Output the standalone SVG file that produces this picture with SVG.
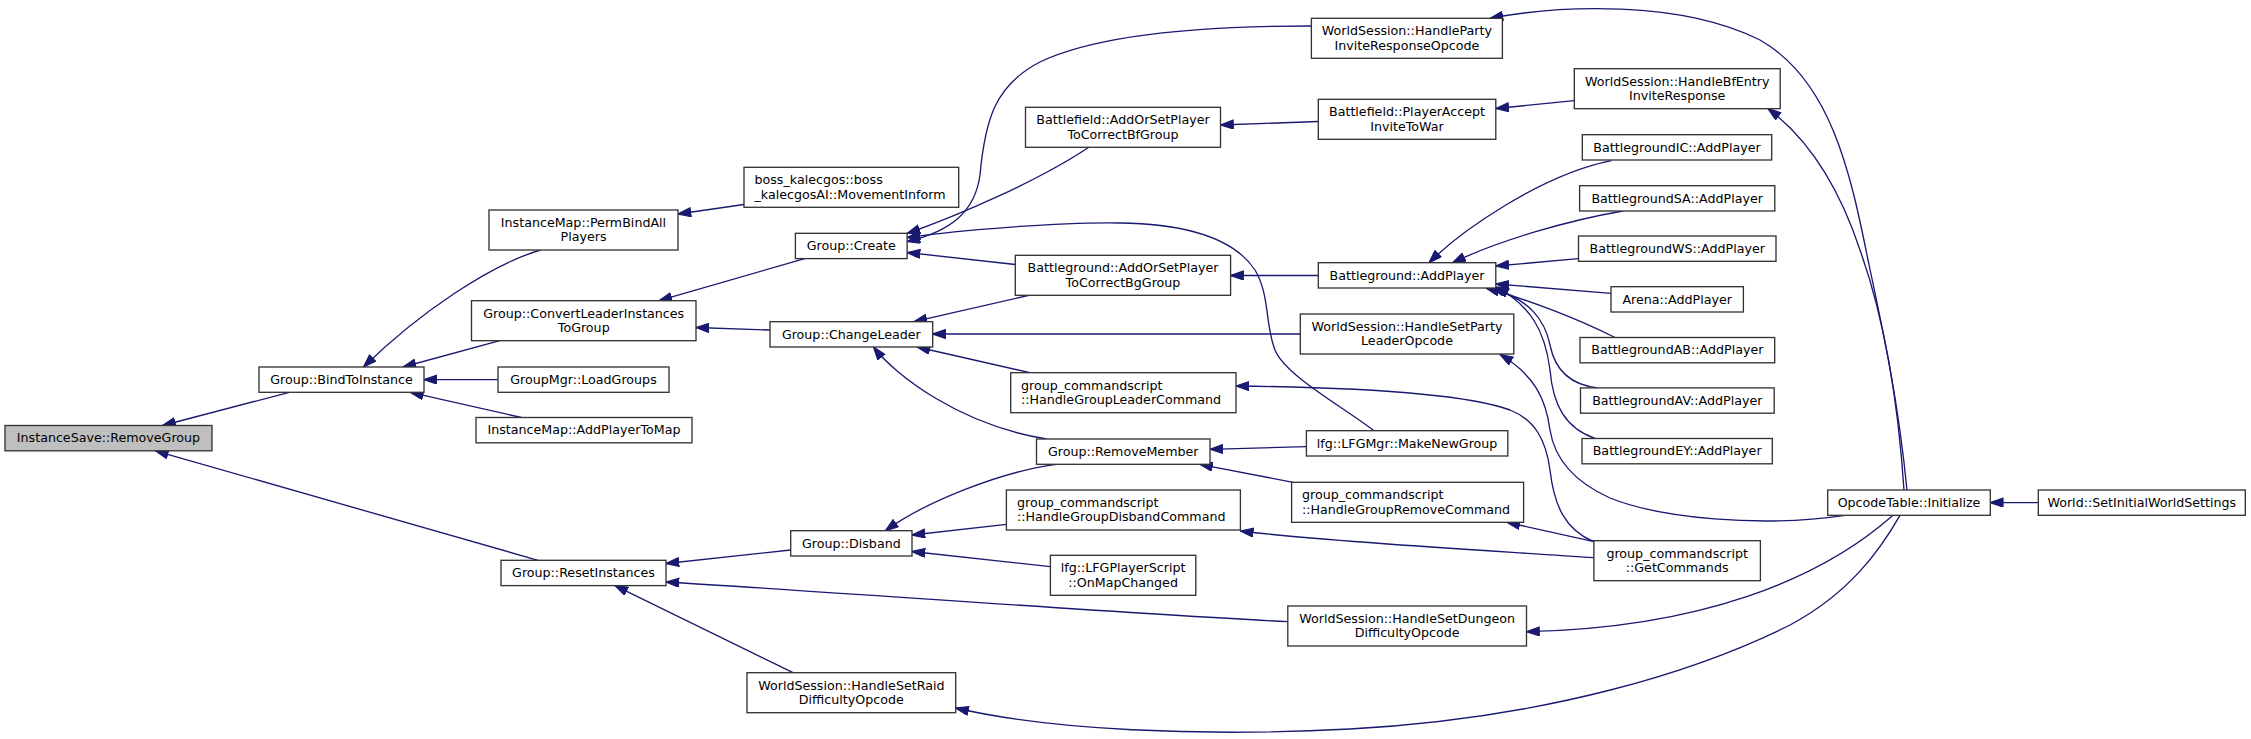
<svg xmlns="http://www.w3.org/2000/svg" width="2251" height="739" viewBox="0 0 2251 739">
<defs>
<style>
.n rect{fill:#ffffff;stroke:#333333;stroke-width:1.33}
.n.hl rect{fill:#bfbfbf}
.n text{font-family:"DejaVu Sans","Liberation Sans",sans-serif;font-size:12.67px;fill:#000000;text-anchor:middle}
.n text.l{text-anchor:start}
#edges path{fill:none;stroke:#191970;stroke-width:1.33;marker-start:url(#ah)}
</style>
<marker id="ah" markerUnits="userSpaceOnUse" viewBox="0 0 14 10" markerWidth="14" markerHeight="10" refX="13.3" refY="4.7" orient="auto-start-reverse">
<path d="M0.6,0.3 L13.3,4.7 L0.6,9.1 Z" fill="#191970" stroke="#191970" stroke-width="1.2"/>
</marker>
</defs>
<rect x="0" y="0" width="2251" height="739" fill="#ffffff"/>
<g id="edges">
<path d="M162.6,425.5 L289.4,392.3"/>
<path d="M155.4,450.8 L538,560.3"/>
<path d="M363.5,367 C420,312 490,265 540.5,250"/>
<path d="M403,367 L499.8,340.7"/>
<path d="M424,379.6 L498,379.6"/>
<path d="M410.4,392.3 L521.4,417.5"/>
<path d="M678,214 L744,204.5"/>
<path d="M659,300.7 L804.6,258.6"/>
<path d="M696,327.5 L770,330"/>
<path d="M666,563.5 L790.7,550"/>
<path d="M666,582 C850,593 1100,612 1287.8,621.7"/>
<path d="M615,585.6 L793,672.7"/>
<path d="M907.1,241.5 C950,232 975,212 980,175 C985,120 995,85 1040,62 C1090,38 1180,26 1311.4,26"/>
<path d="M907.1,233.5 C960,215 1040,180 1088.8,147.3"/>
<path d="M907.1,237.5 C960,230 1060,222 1120,223 C1190,224 1235,240 1255,270 C1270,295 1265,325 1275,350 C1285,375 1340,405 1374,430.7"/>
<path d="M907.1,252.5 L1015.3,264.5"/>
<path d="M914,321.7 L1029,295.3"/>
<path d="M932.7,334 L1300.3,334"/>
<path d="M917,347 L1030,372.7"/>
<path d="M873.5,347 C895,375 960,425 1046.5,439"/>
<path d="M885.4,530.7 C925,502 1000,472 1056,464.3"/>
<path d="M912,535 L1006.4,524.3"/>
<path d="M912,551.5 L1050.4,566.7"/>
<path d="M1220.5,125 L1318.3,121.5"/>
<path d="M1495.8,108.5 L1574.3,100.7"/>
<path d="M1230.6,275.5 L1318.3,275.5"/>
<path d="M1210,449.3 L1306.4,446.7"/>
<path d="M1199.6,464.3 L1293,482.3"/>
<path d="M1236,386 C1330,387 1460,392 1510,410 C1535,420 1546,440 1550,470 C1554,505 1565,530 1593.9,541.7"/>
<path d="M1500,354.5 C1535,375 1546,400 1550,430 C1554,455 1570,480 1610,498 C1660,518 1760,528 1845,515.3"/>
<path d="M1507,522.3 L1593.9,541.7"/>
<path d="M1240.4,531 C1330,542 1480,550 1593.9,557.7"/>
<path d="M1429,262.7 C1460,232 1540,175 1611.4,160.7"/>
<path d="M1452.6,262.7 C1500,240 1570,220 1623,211"/>
<path d="M1495.8,266 L1578.5,258.7"/>
<path d="M1495.8,284 L1611,293.3"/>
<path d="M1486,288 C1530,300 1580,320 1615,337.5"/>
<path d="M1492,288 C1530,300 1545,320 1550,345 C1555,370 1570,385 1598,387.9"/>
<path d="M1495.8,287 C1530,305 1545,330 1550,370 C1553,405 1565,428 1595,438.5"/>
<path d="M1490,18.3 C1560,5 1680,0 1760,40 C1830,80 1850,170 1868,260 C1885,340 1898,400 1907,490"/>
<path d="M1768,108.7 C1810,140 1840,190 1860,250 C1885,320 1898,400 1904,490"/>
<path d="M1526.5,631.7 C1700,628 1820,580 1893,515.3"/>
<path d="M955.7,708 C1050,730 1200,737 1350,729 C1550,718 1700,670 1790,625 C1850,593 1880,550 1900,515.3"/>
<path d="M1990.3,502.6 L2038.3,502.6"/>
</g>
<g id="n-removegroup" class="n hl"><rect x="5" y="425.5" width="207" height="25.3"/><text x="108.5" y="442.4">InstanceSave::RemoveGroup</text></g>
<g id="n-bindtoinstance" class="n"><rect x="259" y="367" width="165" height="25.3"/><text x="341.5" y="383.9">Group::BindToInstance</text></g>
<g id="n-permbindall" class="n"><rect x="489" y="210" width="189" height="40"/><text x="583.5" y="226.8">InstanceMap::PermBindAll</text><text x="583.5" y="241.2">Players</text></g>
<g id="n-convertleader" class="n"><rect x="471.5" y="300.7" width="224.5" height="40"/><text x="583.75" y="317.5">Group::ConvertLeaderInstances</text><text x="583.75" y="331.9">ToGroup</text></g>
<g id="n-loadgroups" class="n"><rect x="498" y="367" width="171" height="25.3"/><text x="583.5" y="383.9">GroupMgr::LoadGroups</text></g>
<g id="n-addplayertomap" class="n"><rect x="476" y="417.5" width="216" height="25.3"/><text x="584" y="434.4">InstanceMap::AddPlayerToMap</text></g>
<g id="n-resetinstances" class="n"><rect x="501" y="560.3" width="165" height="25.3"/><text x="583.5" y="577.2">Group::ResetInstances</text></g>
<g id="n-boss" class="n"><rect x="744" y="167.3" width="214.7" height="40"/><text class="l" x="754.5" y="184.1">boss_kalecgos::boss</text><text class="l" x="754.5" y="198.5">_kalecgosAI::MovementInform</text></g>
<g id="n-create" class="n"><rect x="795.4" y="233.3" width="111.7" height="25.3"/><text x="851.25" y="250.2">Group::Create</text></g>
<g id="n-changeleader" class="n"><rect x="770" y="321.7" width="162.7" height="25.3"/><text x="851.35" y="338.6">Group::ChangeLeader</text></g>
<g id="n-disband" class="n"><rect x="790.7" y="530.7" width="121.3" height="25.3"/><text x="851.35" y="547.6">Group::Disband</text></g>
<g id="n-setraid" class="n"><rect x="747" y="672.7" width="208.7" height="40"/><text x="851.35" y="689.5">WorldSession::HandleSetRaid</text><text x="851.35" y="703.9">DifficultyOpcode</text></g>
<g id="n-bf-addorset" class="n"><rect x="1025.5" y="107.3" width="195" height="40"/><text x="1123" y="124.1">Battlefield::AddOrSetPlayer</text><text x="1123" y="138.5">ToCorrectBfGroup</text></g>
<g id="n-bg-addorset" class="n"><rect x="1015.3" y="255.3" width="215.3" height="40"/><text x="1123" y="272.1">Battleground::AddOrSetPlayer</text><text x="1123" y="286.5">ToCorrectBgGroup</text></g>
<g id="n-hglc" class="n"><rect x="1010.7" y="372.7" width="225.3" height="40"/><text class="l" x="1021" y="389.5">group_commandscript</text><text class="l" x="1021" y="403.9">::HandleGroupLeaderCommand</text></g>
<g id="n-removemember" class="n"><rect x="1036.5" y="439" width="173.5" height="25.3"/><text x="1123.25" y="455.9">Group::RemoveMember</text></g>
<g id="n-hgdc" class="n"><rect x="1006.4" y="490" width="234" height="40"/><text class="l" x="1017" y="506.8">group_commandscript</text><text class="l" x="1017" y="521.2">::HandleGroupDisbandCommand</text></g>
<g id="n-lfgplayerscript" class="n"><rect x="1050.4" y="555.3" width="145.4" height="40"/><text x="1123.1" y="572.1">lfg::LFGPlayerScript</text><text x="1123.1" y="586.5">::OnMapChanged</text></g>
<g id="n-partyinvite" class="n"><rect x="1311.4" y="18.3" width="191" height="40"/><text x="1406.9" y="35.1">WorldSession::HandleParty</text><text x="1406.9" y="49.5">InviteResponseOpcode</text></g>
<g id="n-playeraccept" class="n"><rect x="1318.3" y="99.3" width="177.5" height="40"/><text x="1407" y="116.1">Battlefield::PlayerAccept</text><text x="1407" y="130.5">InviteToWar</text></g>
<g id="n-bg-addplayer" class="n"><rect x="1318.3" y="262.7" width="177.5" height="25.3"/><text x="1407" y="279.6">Battleground::AddPlayer</text></g>
<g id="n-setpartyleader" class="n"><rect x="1300.3" y="314" width="213.5" height="40"/><text x="1407" y="330.8">WorldSession::HandleSetParty</text><text x="1407" y="345.2">LeaderOpcode</text></g>
<g id="n-makenewgroup" class="n"><rect x="1306.4" y="430.7" width="201.4" height="25.3"/><text x="1407.1" y="447.6">lfg::LFGMgr::MakeNewGroup</text></g>
<g id="n-hgrc" class="n"><rect x="1291.6" y="482.3" width="232" height="40"/><text class="l" x="1302" y="499.1">group_commandscript</text><text class="l" x="1302" y="513.5">::HandleGroupRemoveCommand</text></g>
<g id="n-setdungeon" class="n"><rect x="1287.8" y="606" width="238.7" height="40"/><text x="1407.15" y="622.8">WorldSession::HandleSetDungeon</text><text x="1407.15" y="637.2">DifficultyOpcode</text></g>
<g id="n-bfentry" class="n"><rect x="1574.3" y="68.7" width="205.9" height="40"/><text x="1677.25" y="85.5">WorldSession::HandleBfEntry</text><text x="1677.25" y="99.9">InviteResponse</text></g>
<g id="n-ic" class="n"><rect x="1582.3" y="134.7" width="189.4" height="25.3"/><text x="1677" y="151.6">BattlegroundIC::AddPlayer</text></g>
<g id="n-sa" class="n"><rect x="1579.6" y="185.7" width="195.2" height="25.3"/><text x="1677.2" y="202.6">BattlegroundSA::AddPlayer</text></g>
<g id="n-ws" class="n"><rect x="1578.5" y="236" width="197.5" height="25.3"/><text x="1677.25" y="252.9">BattlegroundWS::AddPlayer</text></g>
<g id="n-arena" class="n"><rect x="1611" y="286.7" width="132.4" height="25.3"/><text x="1677.2" y="303.6">Arena::AddPlayer</text></g>
<g id="n-ab" class="n"><rect x="1580" y="337.5" width="194.7" height="25.3"/><text x="1677.35" y="354.4">BattlegroundAB::AddPlayer</text></g>
<g id="n-av" class="n"><rect x="1580.5" y="387.9" width="193.7" height="25.3"/><text x="1677.35" y="404.8">BattlegroundAV::AddPlayer</text></g>
<g id="n-ey" class="n"><rect x="1582" y="438.5" width="190.3" height="25.3"/><text x="1677.15" y="455.4">BattlegroundEY::AddPlayer</text></g>
<g id="n-getcommands" class="n"><rect x="1593.9" y="540.7" width="166.5" height="40"/><text x="1677.15" y="557.5">group_commandscript</text><text x="1677.15" y="571.9">::GetCommands</text></g>
<g id="n-opcodetable" class="n"><rect x="1827.7" y="490" width="162.6" height="25.3"/><text x="1909" y="506.9">OpcodeTable::Initialize</text></g>
<g id="n-world" class="n"><rect x="2038.3" y="490" width="207" height="25.3"/><text x="2141.8" y="506.9">World::SetInitialWorldSettings</text></g>
</svg>
